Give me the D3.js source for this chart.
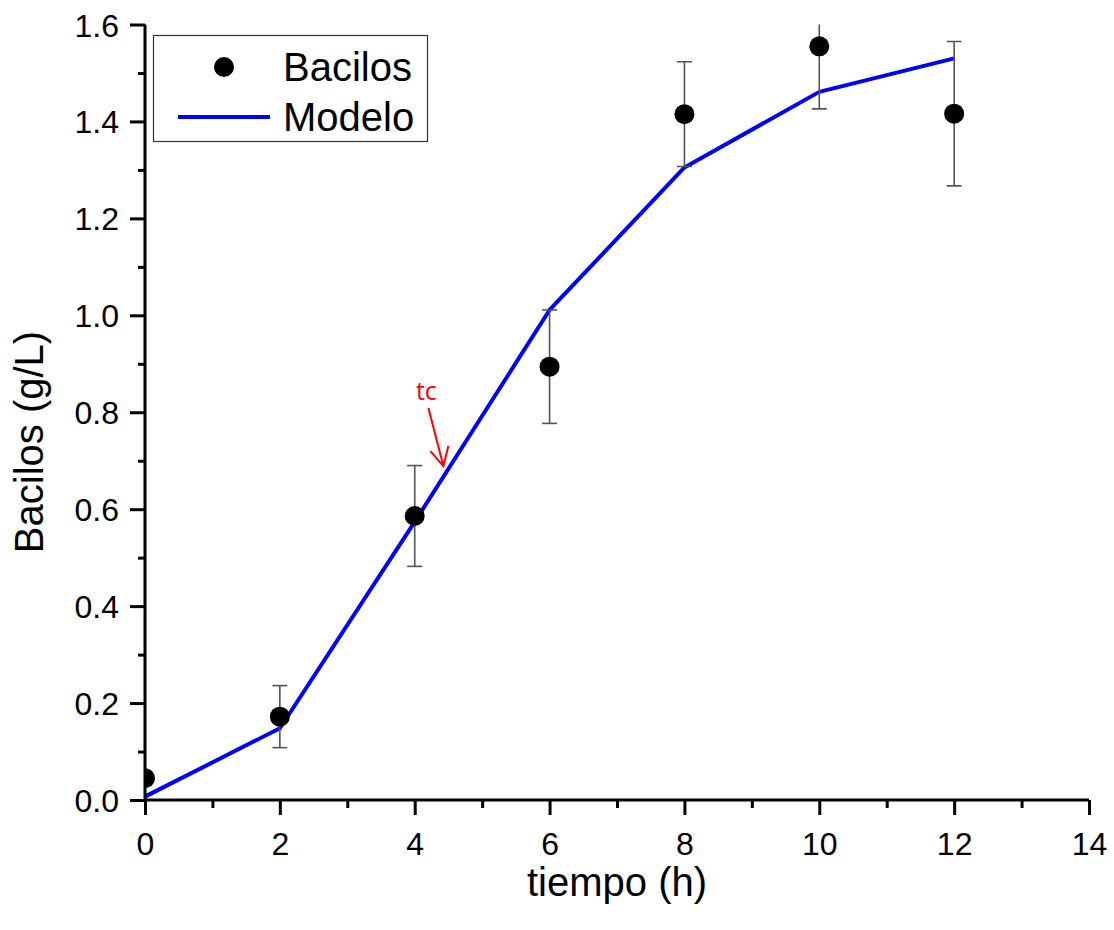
<!DOCTYPE html>
<html>
<head>
<meta charset="utf-8">
<script src="https://cdn.jsdelivr.net/npm/d3@7"></script>
<style>
  html, body { margin: 0; padding: 0; background: #fff; }
  svg { display: block; }
  text { font-family: "Liberation Sans", Arial, sans-serif; fill: #000; }
</style>
</head>
<body>
<script>
// Biomass of Bacilos over time: measured means with error, and fitted model
const tiempo = [0, 2, 4, 6, 8, 10, 12];
const bacilos = [0.045, 0.172, 0.586, 0.894, 1.415, 1.555, 1.416];
const errores = [0.0, 0.064, 0.104, 0.117, 0.108, 0.129, 0.149];
const modelo = [0.007, 0.148, 0.574, 1.011, 1.305, 1.461, 1.530];
const xTicks = [0, 2, 4, 6, 8, 10, 12, 14];
const yTicks = [0.0, 0.2, 0.4, 0.6, 0.8, 1.0, 1.2, 1.4, 1.6];
const tcPoint = { x: 4.44, y: 0.69 };

const W = 1114, H = 930;
const plotLeft = 145, plotRight = 1089, plotTop = 24.5, plotBottom = 800;

const svg = d3.select("body").append("svg").attr("width", W).attr("height", H);

const x = d3.scaleLinear().domain([0, 14]).range([plotLeft, plotRight]);
const y = d3.scaleLinear().domain([0, 1.6]).range([plotBottom, plotTop]);

svg.append("clipPath").attr("id", "plotArea")
  .append("rect").attr("x", plotLeft).attr("y", plotTop)
  .attr("width", plotRight - plotLeft).attr("height", plotBottom - plotTop);

const plot = svg.append("g").attr("clip-path", "url(#plotArea)");

// Model curve
plot.append("path")
  .datum(tiempo.map((t, i) => [t, modelo[i]]))
  .attr("fill", "none")
  .attr("stroke", "#0000ff")
  .attr("stroke-width", 4)
  .attr("stroke-linejoin", "round")
  .attr("d", d3.line().x(d => x(d[0])).y(d => y(d[1])));

// Error bars
const eb = plot.append("g").attr("stroke", "#555").attr("stroke-width", 1.6).attr("fill", "none");
tiempo.forEach((t, i) => {
  if (errores[i] <= 0) return;
  const cx = x(t), y1 = y(bacilos[i] + errores[i]), y0 = y(bacilos[i] - errores[i]);
  eb.append("line").attr("x1", cx).attr("x2", cx).attr("y1", y1).attr("y2", y0);
  eb.append("line").attr("x1", cx - 7.5).attr("x2", cx + 7.5).attr("y1", y1).attr("y2", y1);
  eb.append("line").attr("x1", cx - 7.5).attr("x2", cx + 7.5).attr("y1", y0).attr("y2", y0);
});

// Measured points
plot.selectAll("circle.pt").data(tiempo).enter().append("circle")
  .attr("class", "pt")
  .attr("cx", d => x(d))
  .attr("cy", (d, i) => y(bacilos[i]))
  .attr("r", 10)
  .attr("fill", "#000");

// Axes
const xMajor = d3.axisBottom(x).tickValues(xTicks).tickFormat(d3.format("d")).tickSize(15).tickPadding(17);
const xMinor = d3.axisBottom(x).tickValues(d3.range(1, 14, 2)).tickFormat("").tickSize(8);
const yMajor = d3.axisLeft(y).tickValues(yTicks).tickFormat(d3.format(".1f")).tickSize(15).tickPadding(11);
const yMinor = d3.axisLeft(y).tickValues(d3.range(0.1, 1.6, 0.2)).tickFormat("").tickSize(7);

function styleAxis(g) {
  g.select(".domain").attr("stroke", "#000").attr("stroke-width", 3);
  g.selectAll(".tick line").attr("stroke", "#000").attr("stroke-width", 3);
  g.selectAll(".tick text").style("font-family", "'Liberation Sans', Arial, sans-serif")
    .style("font-size", "32px").attr("fill", "#000");
}

svg.append("g").attr("transform", `translate(0,${plotBottom})`).call(xMinor).call(styleAxis)
  .select(".domain").remove();
svg.append("g").attr("transform", `translate(${plotLeft},0)`).call(yMinor).call(styleAxis)
  .select(".domain").remove();
const gx = svg.append("g").attr("transform", `translate(0,${plotBottom})`).call(xMajor).call(styleAxis);
gx.select(".domain").attr("d", `M${plotLeft},0H${plotRight}`);
const gy = svg.append("g").attr("transform", `translate(${plotLeft},0)`).call(yMajor).call(styleAxis);
gy.select(".domain").attr("d", `M0,${plotBottom}V${plotTop}`);
gy.selectAll(".tick text").attr("dy", "0.36em");

// Axis titles
svg.append("text")
  .attr("x", (plotLeft + plotRight) / 2).attr("y", 896)
  .attr("text-anchor", "middle")
  .style("font-size", "40px")
  .text("tiempo (h)");

svg.append("text")
  .attr("transform", `translate(43,442) rotate(-90)`)
  .attr("text-anchor", "middle")
  .style("font-size", "40px")
  .text("Bacilos (g/L)");

// tc annotation
const ann = svg.append("g");
ann.append("text")
  .attr("x", x(tcPoint.x) - 18).attr("y", y(tcPoint.y) - 66)
  .attr("text-anchor", "middle")
  .style("font-family", "'Open Sans', 'DejaVu Sans', sans-serif")
  .style("font-size", "25px")
  .style("fill", "#ff0000")
  .text("tc");
const tipX = x(tcPoint.x) - 1, tipY = y(tcPoint.y) + 0.5;
ann.append("path")
  .attr("d", `M${tipX - 15},${tipY - 58}L${tipX},${tipY}M${tipX - 13},${tipY - 15}L${tipX},${tipY}L${tipX + 5},${tipY - 20}`)
  .attr("fill", "none").attr("stroke", "#ff0000").attr("stroke-width", 2);

// Legend
const lg = svg.append("g");
lg.append("rect").attr("x", 153.5).attr("y", 35.5).attr("width", 274).attr("height", 106)
  .attr("fill", "#fff").attr("stroke", "#333").attr("stroke-width", 1.2);
lg.append("circle").attr("cx", 224).attr("cy", 67).attr("r", 10).attr("fill", "#000");
lg.append("line").attr("x1", 178).attr("x2", 270).attr("y1", 117).attr("y2", 117)
  .attr("stroke", "#0000ff").attr("stroke-width", 4);
lg.append("text").attr("x", 283).attr("y", 81).style("font-size", "40px").text("Bacilos");
lg.append("text").attr("x", 283).attr("y", 131).style("font-size", "40px").text("Modelo");
</script>
</body>
</html>
